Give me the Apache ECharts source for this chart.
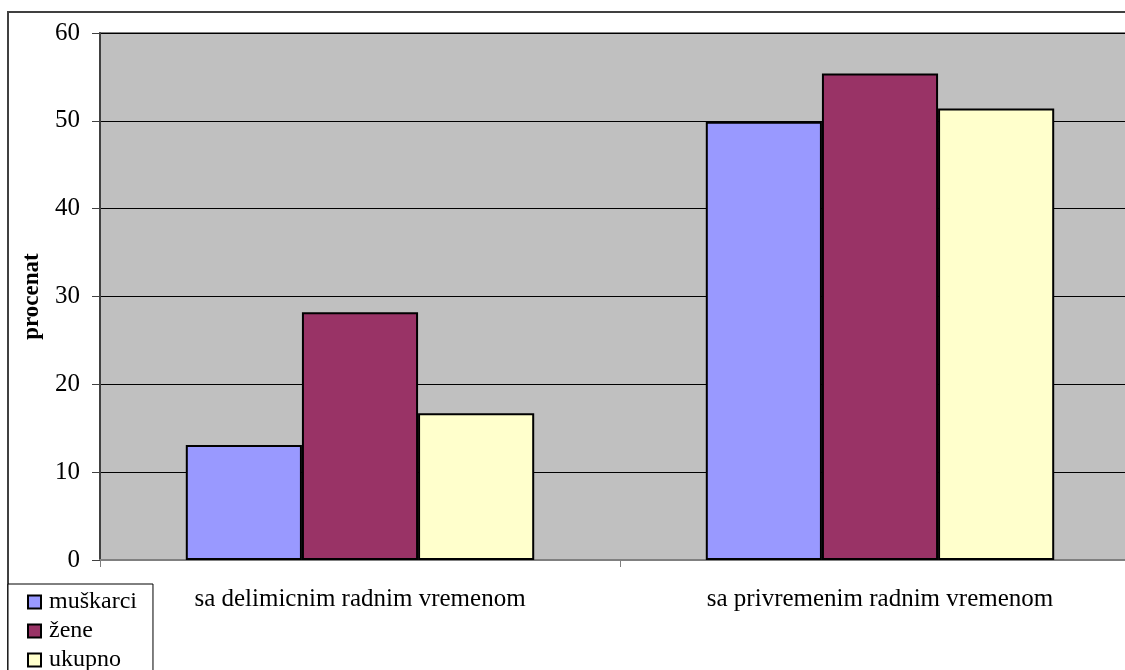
<!DOCTYPE html>
<html>
<head>
<meta charset="utf-8">
<script src="https://cdn.jsdelivr.net/npm/echarts@6/dist/echarts.min.js"></script>
<style>html,body{margin:0;padding:0;background:#fff;overflow:hidden;width:1125px;height:670px}#c{width:1150px;height:670px}</style>
</head>
<body>
<div id="c"></div>
<script>
const categories = ['sa delimicnim radnim vremenom', 'sa privremenim radnim vremenom'];
const seriesNames = ['muškarci', 'žene', 'ukupno'];
const muskarci = [13.1, 49.9];
const zene = [28.2, 55.4];
const ukupno = [16.7, 51.4];
const yTicks = [0, 10, 20, 30, 40, 50, 60];
const colors = ['#9999FF', '#993366', '#FFFFCC'];

const font = '"Liberation Serif", "Times New Roman", serif';
const chart = echarts.init(document.getElementById('c'));
const values = [muskarci, zene, ukupno];
chart.setOption({
  animation: false,
  textStyle: { fontFamily: font },
  graphic: [{
    type: 'rect', shape: { x: 8, y: 12, width: 1200, height: 700 },
    style: { fill: 'none', stroke: '#404040', lineWidth: 2 }, z: -1
  }],
  grid: { left: 100, width: 1040, top: 33, height: 527, show: true, backgroundColor: '#C0C0C0', borderColor: '#808080', borderWidth: 2 },
  legend: {
    orient: 'vertical', left: 8, top: 584, height: 120,
    data: seriesNames,
    icon: 'rect', itemWidth: 13, itemHeight: 13, itemGap: 5,
    padding: [6, 16, 10, 19],
    borderColor: '#000', borderWidth: 1, backgroundColor: '#fff',
    textStyle: { fontFamily: font, fontSize: 24, color: '#000', lineHeight: 24, padding: [0, 0, 0, 3] },
    itemStyle: { borderColor: '#000', borderWidth: 2 }
  },
  xAxis: {
    type: 'category', data: categories,
    axisLine: { lineStyle: { color: '#808080', width: 2 } },
    axisTick: { show: true, length: 7, lineStyle: { color: '#808080' } },
    axisLabel: { fontFamily: font, fontSize: 25, color: '#000', margin: 27 }
  },
  yAxis: {
    type: 'value', min: yTicks[0], max: yTicks[yTicks.length - 1], interval: 10,
    name: 'procenat', nameLocation: 'middle', nameGap: 56, nameRotate: 90,
    nameTextStyle: { fontFamily: font, fontSize: 23, fontWeight: 'bold', color: '#000' },
    axisLine: { show: true, lineStyle: { color: '#404040', width: 2 } },
    axisTick: { show: true, length: 8, lineStyle: { color: '#404040' } },
    axisLabel: { fontFamily: font, fontSize: 25, color: '#000', margin: 20 },
    splitLine: { lineStyle: { color: '#000', width: 1 } }
  },
  series: seriesNames.map((n, i) => ({
    name: n, type: 'bar', data: values[i],
    barGap: '0%', barCategoryGap: '33%',
    itemStyle: { color: colors[i], borderColor: '#000', borderWidth: 2 }
  }))
});
</script>
</body>
</html>
